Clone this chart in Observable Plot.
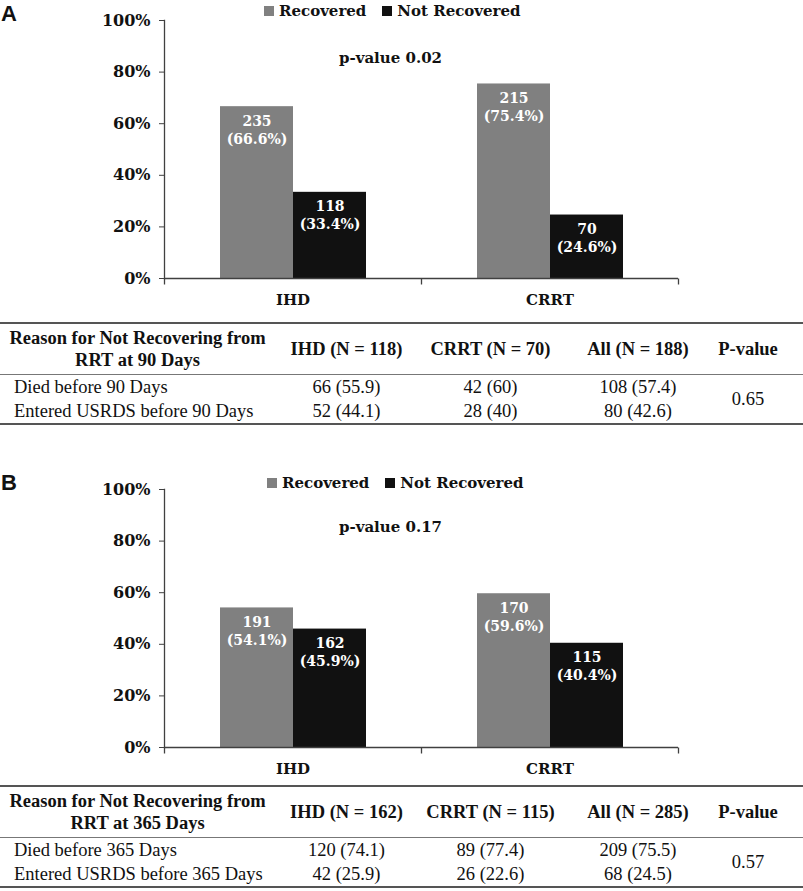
<!DOCTYPE html>
<html>
<head>
<meta charset="utf-8">
<script src="https://cdn.jsdelivr.net/npm/d3@7"></script>
<script src="https://cdn.jsdelivr.net/npm/@observablehq/plot@0.6"></script>
<style>
html, body { margin: 0; padding: 0; background: #fff; }
#page { position: relative; width: 803px; height: 891px; overflow: hidden; background: #fff; }
.letter { position: absolute; left: 1px; font: bold 22px "Liberation Sans", Arial, sans-serif; color: #111; }
.chart { position: absolute; left: 0; }
.legend { position: absolute; display: flex; align-items: center; height: 22px; font: bold 15px "DejaVu Serif", serif; color: #111; white-space: nowrap; }
.legend .item { display: flex; align-items: center; margin-right: 16px; }
.legend .sw { display: inline-block; width: 10px; height: 10px; margin-right: 5px; }
table.stats { position: absolute; left: 0; width: 803px; border-collapse: collapse; table-layout: fixed;
  font: 18.5px "Liberation Serif", "Times New Roman", serif; color: #111;
  border-top: 2px solid #555; border-bottom: 2px solid #555; }
table.stats th { font-weight: bold; height: 50px; line-height: 22px; padding: 0; text-align: center; vertical-align: middle;
  border-bottom: 1px solid #777; }
table.stats td { height: 24px; line-height: 22px; padding: 0; text-align: center; vertical-align: middle; }
table.stats td.lab { text-align: left; padding-left: 14px; }
</style>
</head>
<body>
<div id="page"></div>
<script>
// ---------- data ----------
const categories = ["IHD", "CRRT"];
const statuses = ["Recovered", "Not Recovered"];
const statusColors = ["#808080", "#111111"];
const yTicks = [0, 20, 40, 60, 80, 100];

// Panel A (90 days)
const countsA_recovered = [235, 215];
const countsA_notRecovered = [118, 70];
const pctA_recovered = [66.6, 75.4];
const pctA_notRecovered = [33.4, 24.6];
const pValueA = "0.02";

// Panel B (365 days)
const countsB_recovered = [191, 170];
const countsB_notRecovered = [162, 115];
const pctB_recovered = [54.1, 59.6];
const pctB_notRecovered = [45.9, 40.4];
const pValueB = "0.17";

// Table A
const tableHeadA = [["Reason for Not Recovering from", "RRT at 90 Days"], ["IHD (N = 118)"], ["CRRT (N = 70)"], ["All (N = 188)"], ["P-value"]];
const tableRowLabelsA = ["Died before 90 Days", "Entered USRDS before 90 Days"];
const tableIHD_A = ["66 (55.9)", "52 (44.1)"];
const tableCRRT_A = ["42 (60)", "28 (40)"];
const tableAll_A = ["108 (57.4)", "80 (42.6)"];
const tablePValueA = "0.65";

// Table B
const tableHeadB = [["Reason for Not Recovering from", "RRT at 365 Days"], ["IHD (N = 162)"], ["CRRT (N = 115)"], ["All (N = 285)"], ["P-value"]];
const tableRowLabelsB = ["Died before 365 Days", "Entered USRDS before 365 Days"];
const tableIHD_B = ["120 (74.1)", "42 (25.9)"];
const tableCRRT_B = ["89 (77.4)", "26 (22.6)"];
const tableAll_B = ["209 (75.5)", "68 (24.5)"];
const tablePValueB = "0.57";

// ---------- helpers ----------
const page = document.getElementById("page");
const fmt1 = d3.format(".1f");

const vtick = { draw(ctx, size) { const l = Math.sqrt(size / Math.PI); ctx.moveTo(0, 0); ctx.lineTo(0, l); } };

function buildChart(recCounts, notCounts, recPct, notPct, pval) {
  const counts = [recCounts, notCounts];
  const pcts = [recPct, notPct];
  const data = [];
  categories.forEach((c, i) => statuses.forEach((s, j) => data.push({cat: c, status: s, n: counts[j][i], pct: pcts[j][i]})));
  return Plot.plot({
    width: 803, height: 310,
    marginLeft: 164, marginRight: 125, marginTop: 20, marginBottom: 32,
    style: {fontFamily: "'DejaVu Serif', serif", fontSize: "15px", fontWeight: "bold", color: "#111", background: "transparent", overflow: "visible"},
    fx: {domain: categories, paddingInner: 0, paddingOuter: 0, label: null},
    x: {domain: statuses, paddingInner: 0, paddingOuter: 0.76, axis: null},
    y: {domain: [0, 100]},
    color: {domain: statuses, range: statusColors},
    marks: [
      Plot.barY(data, {fx: "cat", x: "status", y: "pct", fill: "status"}),
      Plot.text(data, {fx: "cat", x: "status", y: "pct", text: d => `${d.n}\n(${fmt1(d.pct)}%)`,
        fill: "white", lineAnchor: "top", dy: 6, fontSize: 14, lineHeight: 1.3}),
      Plot.ruleY([0], {stroke: "#404040", strokeWidth: 1.3}),
      Plot.frame({anchor: "left", facetAnchor: "left", stroke: "#404040", strokeWidth: 1.3}),
      Plot.dot([0], {frameAnchor: "bottom-left", symbol: vtick, r: 6, fill: "none", stroke: "#404040", strokeWidth: 1.3}),
      Plot.dot([0], {frameAnchor: "bottom-right", facetAnchor: "right", symbol: vtick, r: 6, fill: "none", stroke: "#404040", strokeWidth: 1.3}),
      Plot.axisY({ticks: yTicks, tickFormat: d => d + "%", tickSize: 5, tickPadding: 9, label: null, stroke: "#404040", fontSize: 16}),
      Plot.axisFx({anchor: "bottom", tickSize: 0, tickPadding: 16, label: null}),
      Plot.text([`p-value ${pval}`], {frameAnchor: "top-right", facetAnchor: "left", dx: -31, dy: 32, textAnchor: "middle"})
    ]
  });
}

function addLetter(txt, top) {
  const d = document.createElement("div");
  d.className = "letter"; d.textContent = txt; d.style.top = top + "px";
  page.appendChild(d);
}

function addLegend(left, top) {
  const lg = document.createElement("div");
  lg.className = "legend"; lg.style.left = left + "px"; lg.style.top = top + "px";
  statuses.forEach((s, i) => {
    const it = document.createElement("span"); it.className = "item";
    const sw = document.createElement("span"); sw.className = "sw"; sw.style.background = statusColors[i];
    it.appendChild(sw); it.appendChild(document.createTextNode(s));
    lg.appendChild(it);
  });
  page.appendChild(lg);
}

function addChart(svg, top) {
  const wrap = document.createElement("div");
  wrap.className = "chart"; wrap.style.top = top + "px";
  wrap.appendChild(svg);
  page.appendChild(wrap);
}

function addTable(head, rowLabels, ihd, crrt, all, pv, top) {
  const t = document.createElement("table");
  t.className = "stats"; t.style.top = top + "px";
  const cg = document.createElement("colgroup");
  [275, 143, 145, 150, 70, 20].forEach(w => { const c = document.createElement("col"); c.style.width = w + "px"; cg.appendChild(c); });
  t.appendChild(cg);
  const thead = document.createElement("thead");
  const hr = document.createElement("tr");
  head.forEach(lines => {
    const th = document.createElement("th");
    lines.forEach((l, k) => { if (k) th.appendChild(document.createElement("br")); th.appendChild(document.createTextNode(l)); });
    hr.appendChild(th);
  });
  hr.appendChild(document.createElement("th"));
  thead.appendChild(hr); t.appendChild(thead);
  const tb = document.createElement("tbody");
  rowLabels.forEach((lab, r) => {
    const tr = document.createElement("tr");
    const c0 = document.createElement("td"); c0.className = "lab"; c0.textContent = lab; tr.appendChild(c0);
    [ihd[r], crrt[r], all[r]].forEach(v => { const td = document.createElement("td"); td.textContent = v; tr.appendChild(td); });
    if (r === 0) {
      const p = document.createElement("td"); p.rowSpan = rowLabels.length; p.textContent = pv; tr.appendChild(p);
      const e = document.createElement("td"); e.rowSpan = rowLabels.length; tr.appendChild(e);
    }
    tb.appendChild(tr);
  });
  t.appendChild(tb);
  page.appendChild(t);
}

// ---------- Panel A ----------
addChart(buildChart(countsA_recovered, countsA_notRecovered, pctA_recovered, pctA_notRecovered, pValueA), 0);
addLetter("A", 1);
addLegend(264, 0);
addTable(tableHeadA, tableRowLabelsA, tableIHD_A, tableCRRT_A, tableAll_A, tablePValueA, 322);

// ---------- Panel B ----------
addChart(buildChart(countsB_recovered, countsB_notRecovered, pctB_recovered, pctB_notRecovered, pValueB), 469);
addLetter("B", 470);
addLegend(267, 472);
addTable(tableHeadB, tableRowLabelsB, tableIHD_B, tableCRRT_B, tableAll_B, tablePValueB, 785);
</script>
</body>
</html>
